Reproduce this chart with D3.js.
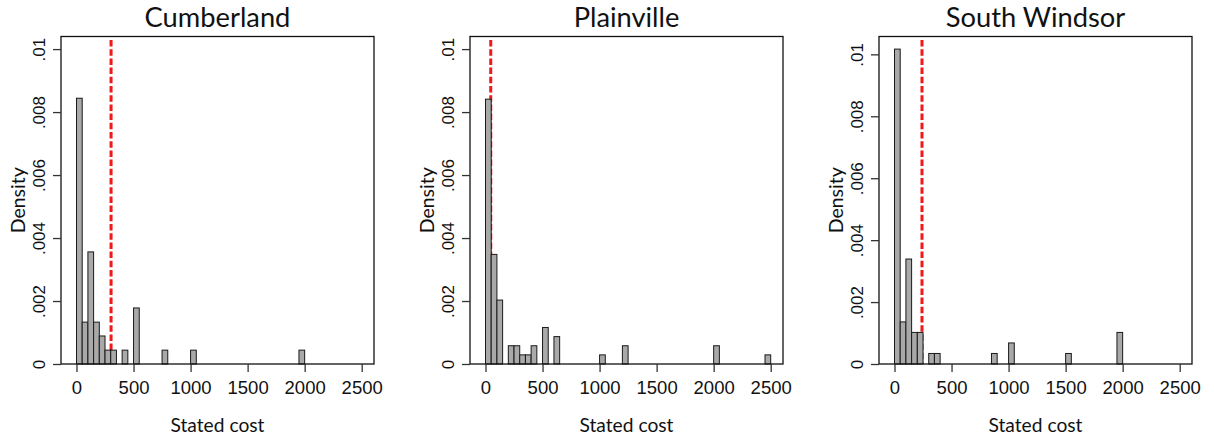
<!DOCTYPE html>
<html>
<head>
<meta charset="utf-8">
<script src="https://cdn.jsdelivr.net/npm/d3@7/dist/d3.min.js"></script>
<style>
  body { margin: 0; background: #fff; }
  svg { display: block; font-family: Lato, "Open Sans", sans-serif; }
</style>
</head>
<body>
<svg id="chart" width="1214" height="439"></svg>
<script>
// histogram data, bin width 50, density
const towns = ["Cumberland", "Plainville", "South Windsor"];
const binWidth = 50;

const cumberlandBins    = [0, 50, 100, 150, 200, 250, 300, 400, 500, 750, 1000, 1950];
const cumberlandDensity = [0.00844, 0.00133, 0.00356, 0.00133, 0.00089, 0.00044, 0.00044, 0.00044, 0.00178, 0.00044, 0.00044, 0.00044];

const plainvilleBins    = [0, 50, 100, 200, 250, 300, 350, 400, 500, 600, 1000, 1200, 2000, 2450];
const plainvilleDensity = [0.00841, 0.00348, 0.00203, 0.00058, 0.00058, 0.00029, 0.00029, 0.00058, 0.00116, 0.00087, 0.00029, 0.00058, 0.00058, 0.00029];

const southWindsorBins    = [0, 50, 100, 150, 200, 300, 350, 850, 1000, 1500, 1950];
const southWindsorDensity = [0.01017, 0.00136, 0.00339, 0.00102, 0.00102, 0.00034, 0.00034, 0.00034, 0.00068, 0.00034, 0.00102];

// dashed red reference line (stated cost)
const refLines = [303, 46, 241];

const xTicks = [0, 500, 1000, 1500, 2000, 2500];
const yTicks = [0, 0.002, 0.004, 0.006, 0.008, 0.01];

const panels = [
  {bins: cumberlandBins, dens: cumberlandDensity},
  {bins: plainvilleBins, dens: plainvilleDensity},
  {bins: southWindsorBins, dens: southWindsorDensity}
];

const svg = d3.select("#chart");
const lefts = [61, 470, 879];
const fw = 313, plotTop = 36.5, plotBottom = 364;

const yFmt = d => d === 0 ? "0" : d3.format(".3~f")(d).replace(/^0/, "");

panels.forEach((p, i) => {
  const L = lefts[i];
  const g = svg.append("g");

  const x = d3.scaleLinear().domain([0, 2500]).range([L + 15.5, L + 300.7]);
  const ymax = Math.max(0.01, d3.max(p.dens)) * 1.04;
  const y = d3.scaleLinear().domain([0, ymax]).range([plotBottom, plotTop]);

  // reference line first, bars cover it
  g.append("line")
    .attr("x1", x(refLines[i])).attr("x2", x(refLines[i]))
    .attr("y1", plotTop + 3.5).attr("y2", plotBottom)
    .attr("stroke", "#f01818")
    .attr("stroke-width", 3)
    .attr("stroke-dasharray", "6.5,2.7");

  const data = p.bins.map((b, k) => ({x0: b, x1: b + binWidth, d: p.dens[k]}));
  g.selectAll("rect.bar").data(data).join("rect")
    .attr("class", "bar")
    .attr("x", d => x(d.x0))
    .attr("width", d => x(d.x1) - x(d.x0))
    .attr("y", d => y(d.d))
    .attr("height", d => plotBottom - y(d.d))
    .attr("fill", "#a9a9a9")
    .attr("stroke", "#1a1a1a")
    .attr("stroke-width", 1);

  // frame
  g.append("rect")
    .attr("x", L).attr("y", plotTop)
    .attr("width", fw).attr("height", plotBottom - plotTop)
    .attr("fill", "none")
    .attr("stroke", "#111")
    .attr("stroke-width", 1.3);

  // x axis
  const xa = g.append("g")
    .attr("transform", `translate(0,${plotBottom})`)
    .call(d3.axisBottom(x).tickValues(xTicks).tickSize(8).tickPadding(9).tickFormat(d3.format("d")));
  xa.select(".domain").remove();
  xa.selectAll("line").attr("stroke", "#333").attr("stroke-width", 1.3);
  xa.selectAll("text").attr("font-size", 18.5).attr("fill", "#111");

  // y axis, rotated labels
  const ya = g.append("g")
    .attr("transform", `translate(${L},0)`)
    .call(d3.axisLeft(y).tickValues(yTicks).tickSize(8).tickFormat(yFmt));
  ya.select(".domain").remove();
  ya.selectAll("line").attr("stroke", "#333").attr("stroke-width", 1.3);
  ya.selectAll("text")
    .attr("transform", "rotate(-90)")
    .attr("x", 0).attr("y", -16).attr("dy", 0)
    .attr("text-anchor", "middle")
    .attr("font-size", 17).attr("fill", "#111");

  g.append("text")
    .attr("transform", `translate(${L - 36},${(plotTop + plotBottom) / 2}) rotate(-90)`)
    .attr("text-anchor", "middle")
    .attr("font-size", 19.5).attr("fill", "#111")
    .text("Density");

  g.append("text")
    .attr("x", L + fw / 2).attr("y", 432)
    .attr("text-anchor", "middle")
    .attr("font-size", 19.2).attr("fill", "#111")
    .text("Stated cost");

  g.append("text")
    .attr("x", L + fw / 2).attr("y", 27)
    .attr("text-anchor", "middle")
    .attr("font-size", 27.3).attr("fill", "#111")
    .text(towns[i]);
});
</script>
</body>
</html>
